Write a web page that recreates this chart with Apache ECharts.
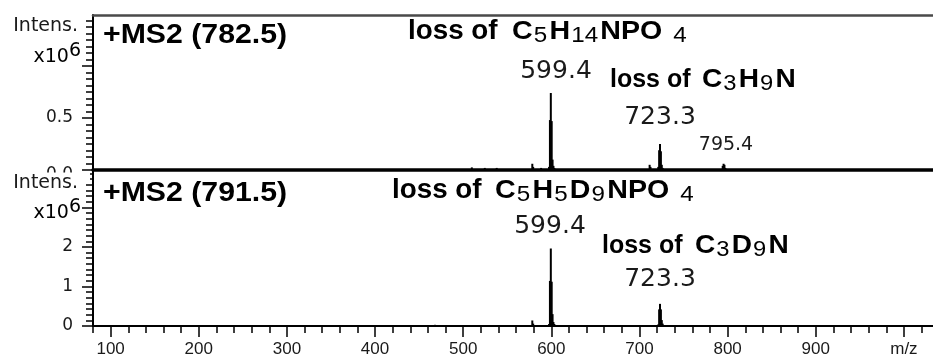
<!DOCTYPE html>
<html><head><meta charset="utf-8">
<script src="https://cdn.jsdelivr.net/npm/echarts@6/dist/echarts.min.js"></script>
<style>html,body{margin:0;padding:0;background:#fff}#c{width:933px;height:362px}</style>
</head><body><div id="c"></div>
<script>
// ---- data (intensities in units of 10^6) ----
const mzTop  = [509.8, 524.5, 538.0, 578.4, 579.4, 588.4, 597.4, 598.4, 599.4, 600.4, 601.4, 602.4, 603.4, 711.5, 712.5, 721.3, 722.3, 723.3, 724.3, 725.3, 726.3, 794.4, 795.4, 796.4, 797.4];
const intTop = [0.025, 0.02, 0.02, 0.06, 0.03, 0.02, 0.03, 0.48, 0.74, 0.47, 0.10, 0.04, 0.02, 0.05, 0.03, 0.03, 0.19, 0.25, 0.18, 0.05, 0.02, 0.04, 0.06, 0.05, 0.02];
const mzBot  = [468.0, 578.4, 579.4, 597.4, 598.4, 599.4, 600.4, 601.4, 602.4, 603.4, 604.4, 721.3, 722.3, 723.3, 724.3, 725.3, 726.3, 727.3];
const intBot = [0.03, 0.14, 0.06, 0.05, 1.14, 1.96, 1.12, 0.30, 0.10, 0.05, 0.02, 0.04, 0.42, 0.56, 0.42, 0.15, 0.06, 0.02];

const xMin = 80, xMax = 1033;
const xMajorTicks = [100, 200, 300, 400, 500, 600, 700, 800, 900, 1000];
const xTickLabels = ['100', '200', '300', '400', '500', '600', '700', '800', '900', 'm/z'];
const xMinorStep = 20;
const yTopMax = 1.49, yBotMax = 3.92;
const yTopMajor = [0, 0.5, 1.0];
const yTopLabels = [0, 0.5];
const yTopLabelText = ['0.0', '0.5'];
const yTopMinorStep = 0.0625;
const yBotMajor = [0, 1, 2, 3];
const yBotLabels = [0, 1, 2];
const yBotLabelText = ['0', '1', '2'];
const yBotMinorStep = 1 / 7;

const titleTop = '+MS2 (782.5)';
const titleBot = '+MS2 (791.5)';
const lossTop1 = ['C', '5', 'H', '14', 'NPO', '4'];
const lossTop2 = ['C', '3', 'H', '9', 'N'];
const lossBot1 = ['C', '5', 'H', '5', 'D', '9', 'NPO', '4'];
const lossBot2 = ['C', '3', 'D', '9', 'N'];
const peakTop = ['599.4', '723.3', '795.4'];
const peakBot = ['599.4', '723.3'];

// ---- helpers ----
function steps(min, max, step) { const a = []; for (let i = Math.ceil(min / step - 1e-9); i * step <= max + 1e-9; i++) a.push(+(i * step).toFixed(6)); return a; }
const xMinor = steps(xMin, xMax, xMinorStep);
const yTopMinor = steps(0, yTopMax, yTopMinorStep);
const yBotMinor = steps(0, yBotMax, yBotMinorStep);

const FONT = '"Liberation Sans", Arial, sans-serif';
const WFONT = '"DejaVu Sans", Verdana, sans-serif';
const TC = '#1a1a1a';
const L = 93, W = 840;

function xAxes(grid, isBottom) {
  const base = { type: 'value', gridIndex: grid, min: xMin, max: xMax, splitLine: { show: false } };
  if (!isBottom) {
    return [
      Object.assign({}, base, { position: 'bottom', axisLine: { show: true, onZero: false, lineStyle: { color: '#000', width: 3.5 } }, axisTick: { show: false }, axisLabel: { show: false } }),
      Object.assign({}, base, { position: 'top', axisLine: { show: true, onZero: false, lineStyle: { color: '#4a4a4a', width: 2.5 } }, axisTick: { show: false }, axisLabel: { show: false } })
    ];
  }
  return [
    Object.assign({}, base, { position: 'bottom', axisLine: { show: true, onZero: false, lineStyle: { color: '#000', width: 2 } },
      axisTick: { show: true, customValues: xMinor, length: 7, lineStyle: { color: '#000', width: 1.5 } }, axisLabel: { show: false } }),
    Object.assign({}, base, { position: 'bottom', axisLine: { show: false },
      axisTick: { show: true, customValues: xMajorTicks, length: 11, lineStyle: { color: '#000', width: 1.5 } },
      axisLabel: { show: true, customValues: xMajorTicks, margin: 15, fontSize: 17, color: TC, fontFamily: FONT,
        formatter: v => xTickLabels[xMajorTicks.indexOf(Math.round(v))] } })
  ];
}
function yAxes(grid, max, minor, major, labels, labelText, lowFirst) {
  const base = { type: 'value', gridIndex: grid, min: 0, max: max, position: 'left', splitLine: { show: false } };
  return [
    Object.assign({}, base, { axisLine: { show: true, onZero: false, lineStyle: { color: '#000', width: 2 } },
      axisTick: { show: true, customValues: minor, length: 7, lineStyle: { color: '#000', width: 1.5 } }, axisLabel: { show: false } }),
    Object.assign({}, base, { axisLine: { show: false },
      axisTick: { show: true, customValues: major, length: 11, lineStyle: { color: '#000', width: 1.5 } },
      axisLabel: { show: true, customValues: labels, margin: 20, fontSize: 17, color: TC, fontFamily: WFONT,
        rich: { low: { fontSize: 17, fontFamily: WFONT, color: TC, padding: [9, 0, 0, 0] } },
        formatter: v => {
          const i = labels.findIndex(l => Math.abs(l - v) < 1e-6);
          if (i < 0) return '';
          return (lowFirst && i === 0) ? '{low|' + labelText[i] + '}' : labelText[i];
        } } })
  ];
}

const richStyles = {
  b: { fontSize: 26, fontWeight: 'bold', fontFamily: FONT, color: '#000', lineHeight: 30, verticalAlign: 'middle' },
  s: { fontSize: 22, fontFamily: FONT, color: '#000', lineHeight: 12, verticalAlign: 'bottom', padding: [0, 2, 0, 1] },
  g: { fontSize: 22, fontFamily: FONT, color: '#000', lineHeight: 12, verticalAlign: 'bottom', padding: [0, 0, 0, 10] }
};
function formula(parts) { // [text, sub, text, sub, ...]; last subscript gets a wider gap
  const n = parts.length;
  return parts.map((p, i) => {
    if (i % 2 === 0) return '{b|' + p + '}';
    return (i === n - 1 && parts[i - 1] === 'NPO' ? '{g|' : '{s|') + p + '}';
  }).join('');
}
function lossLabel(parts, x, y, fx, sx, lsize, lscale) {
  return [
    { type: 'text', z: 101, x: x, y: y, scaleX: lscale, style: { text: 'loss of', x: 0, y: 0, align: 'left', verticalAlign: 'middle', font: 'bold ' + lsize + 'px ' + FONT, fill: '#000' } },
    { type: 'text', z: 101, x: fx, y: y, scaleX: sx, style: { text: formula(parts), x: 0, y: 0, align: 'left', verticalAlign: 'middle', rich: richStyles } }
  ];
}
function plain(text, x, y, size, family, bold, align, sx) {
  return { type: 'text', z: 101, x: x, y: y, scaleX: sx || 1, style: { text: text, x: 0, y: 0, align: align || 'center', verticalAlign: 'middle',
    font: (bold ? 'bold ' : '') + size + 'px ' + family, fill: bold ? '#000' : TC } };
}
function unitLabel(yIntens, yX) {
  return [
    plain('Intens.', 78, yIntens, 19, WFONT, false, 'right'),
    { type: 'text', z: 101, x: 81, y: yX, style: { text: '{n|x10}{p|6}', x: 0, y: 0, align: 'right', verticalAlign: 'middle',
      rich: { n: { fontSize: 19, fontFamily: WFONT, color: TC, lineHeight: 30, verticalAlign: 'middle' },
              p: { fontSize: 19, fontFamily: WFONT, color: TC, lineHeight: 16, verticalAlign: 'top' } } } }
  ];
}

const chart = echarts.init(document.getElementById('c'));
chart.setOption({
  animation: false,
  backgroundColor: '#fff',
  grid: [
    { left: L, top: 15, width: W, height: 155 },
    { left: L, top: 171, width: W, height: 155 }
  ],
  xAxis: [].concat(xAxes(0, false), xAxes(1, true)),
  yAxis: [].concat(yAxes(0, yTopMax, yTopMinor, yTopMajor, yTopLabels, yTopLabelText, true),
                   yAxes(1, yBotMax, yBotMinor, yBotMajor, yBotLabels, yBotLabelText, false)),
  series: [
    { type: 'bar', xAxisIndex: 0, yAxisIndex: 0, barWidth: 2, itemStyle: { color: '#000' }, silent: true,
      data: mzTop.map((m, i) => [m, intTop[i]]) },
    { type: 'bar', xAxisIndex: 2, yAxisIndex: 2, barWidth: 2, itemStyle: { color: '#000' }, silent: true,
      data: mzBot.map((m, i) => [m, intBot[i]]) }
  ],
  graphic: [
    { type: 'rect', z: 100, shape: { x: 0, y: 172.5, width: 90, height: 10 }, style: { fill: '#fff' } },
    plain(titleTop, 103, 35, 28, FONT, true, 'left', 1.08),
    plain(peakTop[0], 556, 71, 25, WFONT, false),
    plain(peakTop[1], 660, 117, 25, WFONT, false),
    plain(peakTop[2], 726, 145, 19, WFONT, false),
    plain(titleBot, 103, 193, 28, FONT, true, 'left', 1.08),
    plain(peakBot[0], 550, 226, 25, WFONT, false),
    plain(peakBot[1], 660, 279, 25, WFONT, false)
  ].concat(
    lossLabel(lossTop1, 408, 32, 512, 1.1, 27, 1.03),
    lossLabel(lossTop2, 610, 80, 702, 1.08, 25, 1.0),
    lossLabel(lossBot1, 392, 191, 495, 1.1, 27, 1.03),
    lossLabel(lossBot2, 602, 246, 695, 1.08, 25, 1.0),
    unitLabel(26, 57), unitLabel(183, 213))
});
</script>
</body></html>
